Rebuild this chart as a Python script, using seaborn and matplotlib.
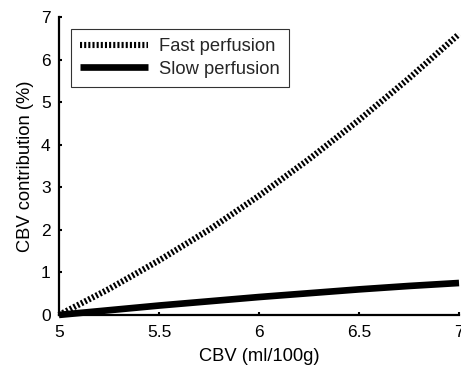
import matplotlib
matplotlib.use("Agg")
import matplotlib.pyplot as plt
import seaborn as sns
import pandas as pd

# Data
cbv = [5.0, 5.25, 5.5, 5.75, 6.0, 6.25, 6.5, 6.75, 7.0]
fast_perfusion = [0.0, 0.61, 1.28, 2.0, 2.8, 3.66, 4.58, 5.56, 6.6]
slow_perfusion = [0.0, 0.11, 0.22, 0.32, 0.42, 0.51, 0.60, 0.68, 0.75]
x_ticks = [5, 5.5, 6, 6.5, 7]
x_tick_labels = ["5", "5.5", "6", "6.5", "7"]
y_ticks = [0, 1, 2, 3, 4, 5, 6, 7]
series_names = ["Fast perfusion", "Slow perfusion"]

sns.set_theme(style="ticks")
plt.rcParams["font.family"] = ["Liberation Sans", "DejaVu Sans"]

fig = plt.figure(figsize=(4.61, 3.74), dpi=100)
ax = fig.add_axes([0.128, 0.158, 0.8677, 0.7965])

df_fast = pd.DataFrame({"x": cbv, "y": fast_perfusion})
df_slow = pd.DataFrame({"x": cbv, "y": slow_perfusion})

sns.lineplot(data=df_fast, x="x", y="y", ax=ax, color="black", lw=4.4,
             label=series_names[0])
sns.lineplot(data=df_slow, x="x", y="y", ax=ax, color="black", lw=4.8,
             label=series_names[1])
fast_dashes = (0.34, 0.34)
fast_line = ax.get_lines()[0]
fast_line.set_dashes(fast_dashes)
fast_line.set_dash_capstyle("butt")
ax.get_lines()[1].set_solid_capstyle("butt")
for ln in ax.get_lines():
    ln.set_clip_on(False)

ax.set_xlim(5, 7)
ax.set_ylim(0, 7)
ax.set_xticks(x_ticks)
ax.set_xticklabels(x_tick_labels)
ax.set_yticks(y_ticks)
ax.tick_params(direction="in", length=2.5, width=1.5, labelsize=12.5,
               colors="black", pad=7)
ax.tick_params(axis="y", pad=6)
for side in ["top", "right"]:
    ax.spines[side].set_visible(False)
for side in ["left", "bottom"]:
    ax.spines[side].set_linewidth(1.6)
    ax.spines[side].set_color("black")

ax.set_xlabel("CBV (ml/100g)", fontsize=13.2, labelpad=6, color="black")
ax.set_ylabel("CBV contribution (%)", fontsize=13.2, labelpad=5, color="black")

leg = ax.legend(loc="upper left", bbox_to_anchor=(0.03, 0.96),
                fontsize=13.2, handlelength=3.7, handletextpad=0.6,
                frameon=True, fancybox=False, borderpad=0.5,
                labelspacing=0.3, borderaxespad=0)
leg.get_frame().set_edgecolor("black")
leg.get_frame().set_linewidth(0.8)
leg.legend_handles[0].set_dashes(fast_dashes)
leg.legend_handles[0].set_dash_capstyle("butt")
leg.legend_handles[1].set_solid_capstyle("butt")

fig.savefig("out.png", dpi=100)
